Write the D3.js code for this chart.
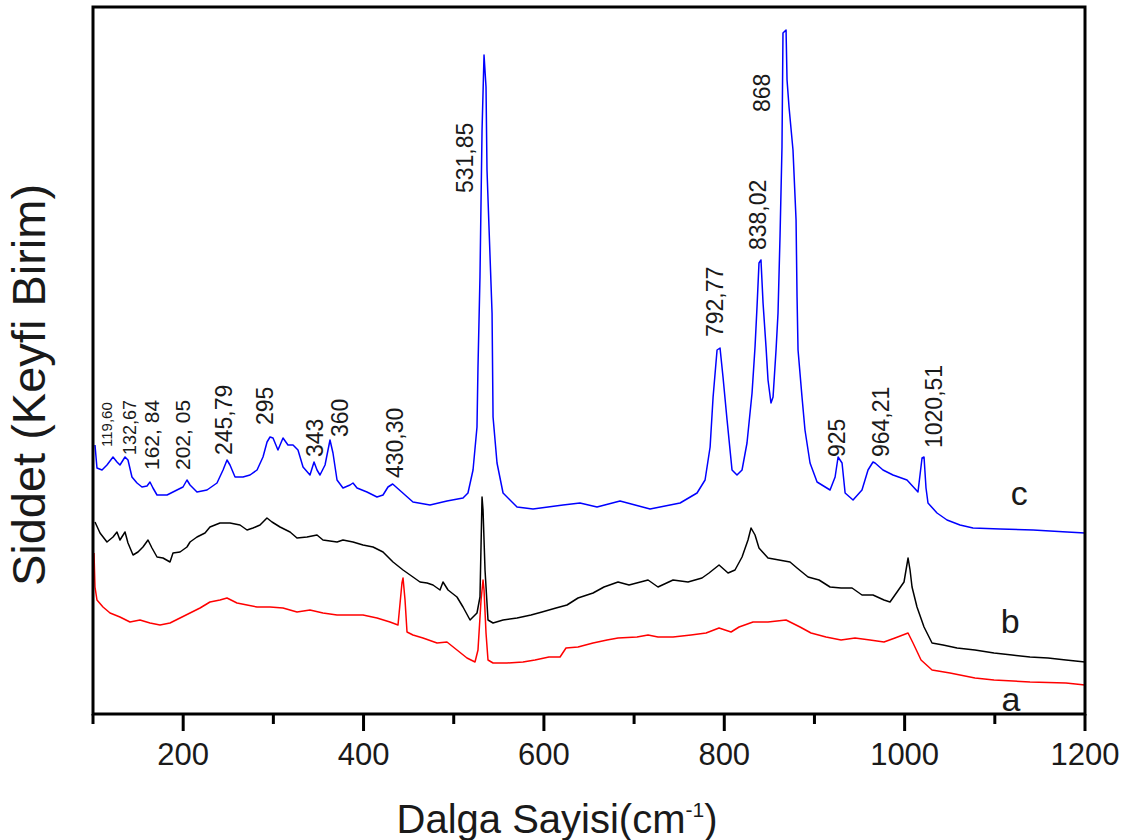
<!DOCTYPE html>
<html>

<head>
    <title>raman</title>
    <style>
    body {
        margin: 0;
        background: #fff;
    }

    svg#spectra text {
        font-family: "Liberation Sans", Arial, sans-serif;
        fill: #1a1a1a;
    }

    svg#spectra path.line {
        fill: none;
        stroke-width: 1.5;
        stroke-linejoin: round;
    }
    </style>
</head>

<body>
    <svg id="spectra"></svg>
    <script src="https://d3js.org/d3.v7.min.js"></script>
    <script>
    // spectrum c (blue) - wavenumber / intensity (arbitrary units)
    var cWave = [102.2, 104.4, 110, 115.5, 122.2, 126.6, 129.9, 135.5, 138.8, 143.2, 148.8, 154.3, 159.9, 163.2, 166.5, 171, 182.1, 193.1, 199.8, 204.2, 207.6, 215.3, 226.4, 237.5, 244.2, 248.6, 251.9, 257.5, 266.3, 274.1, 281.9, 288.5, 293, 296.3, 299.6, 305.1, 310.7, 316.2, 321.8, 327.3, 332.9, 340.6, 345.1, 348.4, 351.7, 357.3, 362.8, 366.1, 370.6, 377.2, 385, 388.3, 392.8, 403.8, 414.9, 421.6, 427.1, 432.3, 454.8, 473.7, 492.5, 510.3, 515.8, 521.4, 525.8, 526.9, 529.1, 531.4, 533.6, 535.8, 536.9, 539.1, 542.5, 543.6, 548, 554.7, 570.2, 587.9, 621.2, 640, 658.9, 684.4, 717.7, 751, 769.8, 778.7, 784.3, 787.6, 792, 795.3, 798.6, 803.1, 808.6, 814.1, 819.7, 825.2, 830.8, 834.1, 836.3, 838.5, 840.7, 843, 846.3, 848.5, 851.8, 854.1, 857.4, 859.6, 861.8, 864, 865.1, 868.5, 869.6, 871.8, 876.2, 879.6, 880.7, 881.8, 886.2, 889.5, 895.1, 902.9, 917.3, 922.9, 926.2, 930.6, 934, 942.8, 952.7, 959.4, 964.9, 967.2, 976, 987.1, 1002.6, 1014.8, 1019.3, 1021.5, 1023.7, 1025.9, 1035.9, 1047, 1061.4, 1075.8, 1105.8, 1142.4, 1180.1, 1200];
    var cInt = [269, 246, 244, 249, 257, 252, 249, 257, 254, 237, 231, 227, 228, 232, 226, 219, 219, 224, 227, 234, 229, 222, 224, 231, 244, 254, 249, 237, 237, 239, 244, 257, 272, 277, 276, 264, 276, 269, 269, 264, 247, 239, 252, 244, 239, 249, 274, 261, 234, 226, 229, 231, 226, 222, 217, 219, 227, 230, 212, 209, 213, 216, 221, 244, 287, 347, 437, 584, 659, 627, 544, 487, 401, 297, 251, 221, 207, 205, 209, 211, 207, 213, 205, 211, 221, 234, 267, 317, 364, 366, 337, 294, 244, 239, 244, 271, 321, 367, 407, 451, 454, 411, 367, 334, 311, 317, 364, 401, 477, 567, 681, 684, 634, 607, 564, 494, 417, 364, 317, 284, 251, 232, 224, 237, 257, 251, 221, 214, 224, 244, 252, 251, 244, 239, 234, 222, 256, 257, 226, 211, 201, 194, 189, 186, 185, 184, 182, 181];

    // spectrum b (black)
    var bWave = [102.2, 107.8, 115.5, 122.2, 126.6, 129.9, 135.5, 138.8, 144.4, 149.9, 155.4, 161, 165.4, 171, 177.6, 185.4, 188.7, 196.5, 204.2, 207.6, 215.3, 224.2, 229.7, 240.8, 251.9, 263, 270.8, 277.4, 285.2, 292.9, 298.5, 307.4, 318.5, 326.2, 337.3, 348.4, 355, 370.6, 377.2, 388.3, 399.4, 410.5, 421.6, 432.7, 443.8, 454.8, 462.6, 470.4, 477, 484.8, 488.1, 493.7, 503.6, 510.3, 518.1, 525.8, 529.1, 531.4, 532.5, 534.7, 538, 543.6, 554.7, 570.2, 585.7, 597.9, 613.4, 625.6, 637.8, 654.5, 666.6, 682.2, 694.4, 715.5, 726.5, 743.2, 759.8, 775.3, 783.1, 794.2, 804.2, 811.9, 819.7, 826.3, 829.7, 834.1, 838.5, 848.5, 860.7, 872.9, 880.7, 892.9, 905.1, 917.3, 929.5, 941.7, 952.7, 964.9, 977.1, 983.8, 991.6, 999.3, 1003.8, 1006, 1008.2, 1013.7, 1021.5, 1030.4, 1042.6, 1058.1, 1078, 1099.1, 1119.1, 1139, 1159, 1178.9, 1200];
    var bInt = [192, 181, 172, 177, 182, 174, 182, 171, 159, 162, 167, 174, 166, 157, 156, 152, 161, 162, 167, 172, 177, 181, 187, 191, 191, 189, 184, 186, 189, 196, 192, 187, 182, 176, 177, 179, 174, 172, 174, 172, 169, 167, 162, 152, 144, 137, 132, 131, 129, 124, 132, 124, 117, 107, 94, 101, 117, 217, 204, 144, 94, 91, 94, 96, 99, 102, 106, 109, 116, 121, 127, 132, 129, 134, 127, 134, 132, 136, 141, 149, 141, 144, 157, 174, 186, 179, 166, 156, 154, 152, 146, 137, 134, 127, 126, 126, 119, 119, 114, 112, 122, 132, 156, 144, 127, 107, 87, 71, 69, 66, 64, 61, 59, 57, 56, 54, 52];

    // spectrum a (red)
    var aWave = [101.1, 102.2, 104.4, 111.1, 118.9, 129.9, 141, 152.1, 163.2, 174.3, 185.4, 196.5, 207.6, 218.7, 229.7, 240.8, 248.6, 259.7, 270.8, 281.9, 296.3, 310.7, 326.2, 340.6, 355, 370.6, 385, 399.4, 414.9, 429.3, 438.2, 442.6, 443.8, 446, 448.2, 454.8, 465.9, 481.5, 492.5, 503.6, 514.7, 523.6, 526.9, 530.3, 532.5, 533.6, 535.8, 538, 543.6, 559.1, 576.8, 590.1, 605.6, 617.9, 624.5, 637.8, 654.5, 670, 682.2, 703.2, 715.5, 726.5, 743.2, 763.1, 779.8, 794.2, 807.5, 816.4, 831.9, 848.5, 868.5, 884, 896.2, 912.8, 929.5, 945, 961.6, 977.1, 989.3, 1003.8, 1009.3, 1018.2, 1030.4, 1050.3, 1078, 1099.1, 1139, 1178.9, 1200];
    var aInt = [161, 127, 114, 107, 101, 97, 92, 94, 91, 89, 91, 96, 101, 106, 112, 114, 116, 111, 109, 107, 107, 106, 102, 104, 101, 99, 99, 99, 96, 92, 89, 131, 136, 114, 82, 79, 76, 71, 72, 64, 56, 52, 64, 114, 134, 124, 81, 54, 51, 51, 52, 54, 57, 57, 66, 67, 71, 74, 76, 77, 79, 77, 77, 79, 81, 86, 82, 87, 92, 92, 94, 87, 81, 77, 74, 76, 74, 72, 76, 81, 71, 54, 44, 41, 36, 34, 32, 31, 29];

    // peak annotations on spectrum c
    var peakText = ["119,60", "132,67", "162, 84", "202, 05", "245,79", "295", "343", "360", "430,30", "531,85", "792,77", "838,02", "868", "925", "964,21", "1020,51"];
    var peakWave = [115.5, 141, 165.4, 199.8, 245.3, 290.7, 346.2, 373.9, 434.9, 512.5, 789.7, 837.4, 841.8, 925, 973.8, 1032.6];
    var peakInt = [267, 259, 244, 244, 259, 289, 257, 277, 236, 521, 377, 464, 602, 257, 257, 266];
    var peakSize = [15, 18, 21, 21, 23, 23, 23, 23, 23, 23, 23, 23, 23, 23, 23, 23];

    // curve names
    var seriesNames = ["a", "b", "c"];
    var seriesWave = [1118, 1117, 1127];
    var seriesInt = [3, 81, 209];

    var xTicks = [100, 200, 300, 400, 500, 600, 700, 800, 900, 1000, 1100, 1200];

    var W = 1132, H = 840;
    var margin = { top: 7, right: 47, bottom: 126, left: 93 };
    var width = W - margin.left - margin.right;
    var height = H - margin.top - margin.bottom;

    var svg = d3.select("svg#spectra")
        .attr("width", W)
        .attr("height", H);

    var g = svg.append("g")
        .attr("transform", "translate(" + margin.left + "," + margin.top + ")");

    var x = d3.scaleLinear().domain([100, 1200]).range([0, width]);
    var y = d3.scaleLinear().domain([0, 707]).range([height, 0]);

    var line = d3.line()
        .x(function(d) { return x(d[0]); })
        .y(function(d) { return y(d[1]); });

    var spectra = [
        { w: aWave, v: aInt, color: "#ff0000" },
        { w: bWave, v: bInt, color: "#000000" },
        { w: cWave, v: cInt, color: "#0000ff" }
    ];

    g.selectAll("path.line")
        .data(spectra)
        .enter()
        .append("path")
        .attr("class", "line")
        .attr("stroke", function(d) { return d.color; })
        .attr("d", function(d) { return line(d3.zip(d.w, d.v)); });

    // frame
    g.append("rect")
        .attr("x", 0).attr("y", 0)
        .attr("width", width).attr("height", height)
        .attr("fill", "none")
        .attr("stroke", "#000")
        .attr("stroke-width", 3);

    // x ticks, long ones on the labelled values
    g.append("g")
        .selectAll("line")
        .data(xTicks)
        .enter()
        .append("line")
        .attr("x1", function(d) { return x(d); })
        .attr("x2", function(d) { return x(d); })
        .attr("y1", height)
        .attr("y2", function(d) { return height + (d % 200 == 0 ? 17 : 10); })
        .attr("stroke", "#000")
        .attr("stroke-width", 3);

    g.append("g")
        .selectAll("text")
        .data(xTicks.filter(function(d) { return d % 200 == 0; }))
        .enter()
        .append("text")
        .attr("x", function(d) { return x(d); })
        .attr("y", height + 51)
        .attr("text-anchor", "middle")
        .style("font-size", "31px")
        .text(function(d) { return d; });

    // axis titles
    var xt = svg.append("text")
        .attr("x", 557)
        .attr("y", 833)
        .attr("text-anchor", "middle")
        .style("font-size", "40px");
    xt.append("tspan").text("Dalga Sayisi(cm");
    xt.append("tspan").attr("dy", -16).style("font-size", "21px").text("-1");
    xt.append("tspan").attr("dy", 16).text(")");

    svg.append("text")
        .attr("transform", "translate(45,385) rotate(-90)")
        .attr("text-anchor", "middle")
        .style("font-size", "47px")
        .text("Siddet (Keyfi Birim)");

    // peak labels
    g.selectAll("text.peak")
        .data(peakText)
        .enter()
        .append("text")
        .attr("class", "peak")
        .attr("transform", function(d, i) {
            return "translate(" + x(peakWave[i]) + "," + y(peakInt[i]) + ") rotate(-90)";
        })
        .attr("dy", "0.35em")
        .style("font-size", function(d, i) { return peakSize[i] + "px"; })
        .text(function(d) { return d; });

    g.selectAll("text.name")
        .data(seriesNames)
        .enter()
        .append("text")
        .attr("class", "name")
        .attr("x", function(d, i) { return x(seriesWave[i]); })
        .attr("y", function(d, i) { return y(seriesInt[i]); })
        .attr("text-anchor", "middle")
        .style("font-size", "34px")
        .text(function(d) { return d; });
    </script>
</body>

</html>
